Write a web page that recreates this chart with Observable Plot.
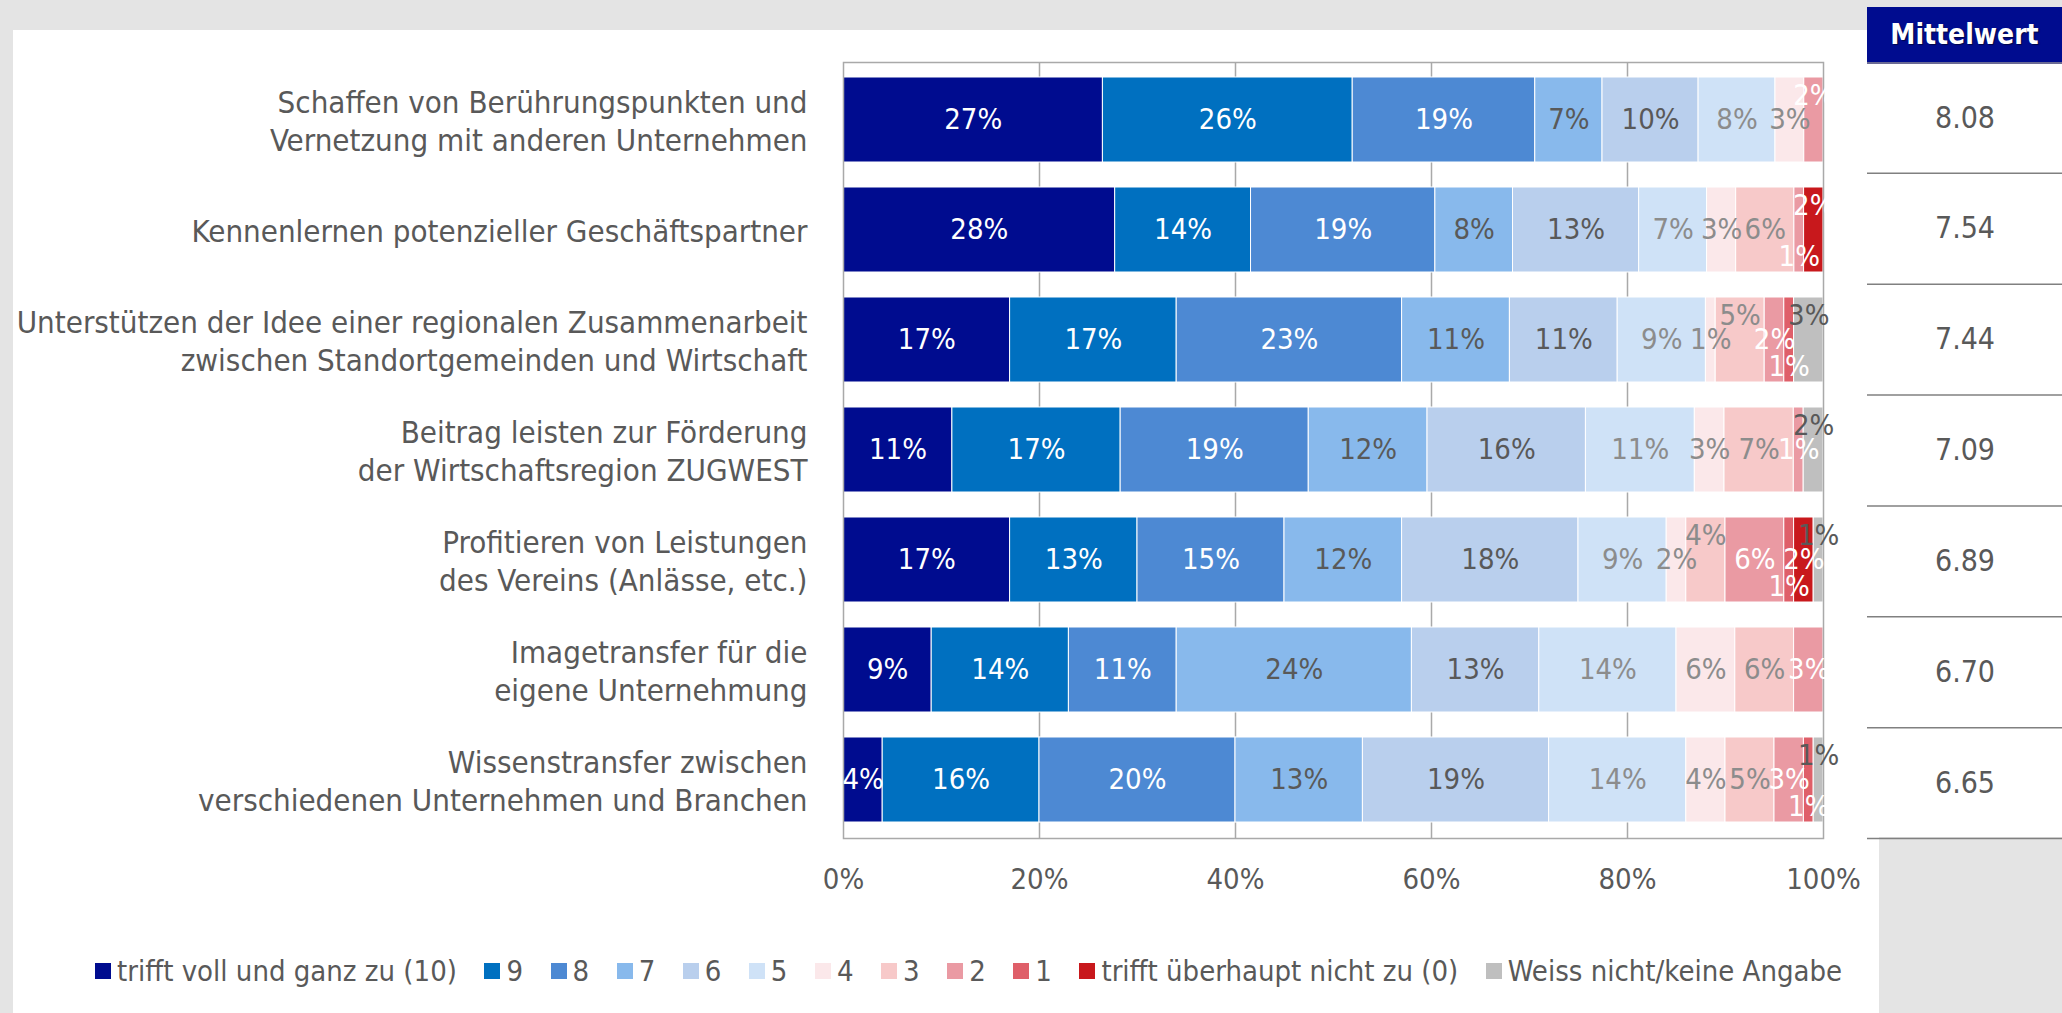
<!DOCTYPE html>
<html><head><meta charset="utf-8">
<script src="https://cdn.jsdelivr.net/npm/d3@7"></script>
<script src="https://cdn.jsdelivr.net/npm/@observablehq/plot@0.6"></script>
<style>
html,body{margin:0;padding:0;}
body{width:2062px;height:1013px;background:#e4e4e4;position:relative;overflow:hidden;font-family:"DejaVu Sans Condensed","DejaVu Sans",sans-serif;font-stretch:condensed;}
#panel{position:absolute;left:13px;top:30px;width:1866px;height:983px;background:#fff;}
#chart{position:absolute;left:0;top:0;}
#tablebg{position:absolute;left:1867px;top:62px;width:195px;height:775px;background:#fff;}
#table{position:absolute;left:1867px;top:0;}
#hdr{position:absolute;left:1867px;top:7px;width:195px;height:55px;background:#000c8f;color:#fff;font-weight:bold;font-size:28px;display:flex;align-items:center;justify-content:center;box-shadow:0 2px 0 #6a6a94;text-shadow:1px 1px 1px rgba(0,0,0,0.5);}
#legend{position:absolute;left:95px;top:954px;}
.lg-swatches{font-family:"DejaVu Sans Condensed","DejaVu Sans",sans-serif !important;font-stretch:condensed;font-size:29px !important;color:#595959 !important;margin:0 !important;display:flex !important;flex-wrap:nowrap !important;align-items:center;white-space:nowrap;}
.lg-swatch{margin-right:27.5px !important;}
.lg-swatch > svg{margin-right:6px !important;}
</style></head><body>
<div id="panel"></div>
<div id="chart"></div>
<div id="tablebg"></div>
<div id="table"></div>
<div id="hdr">Mittelwert</div>
<div id="legend"></div>
<script>
const items = [
  "Schaffen von Berührungspunkten und\nVernetzung mit anderen Unternehmen",
  "Kennenlernen potenzieller Geschäftspartner",
  "Unterstützen der Idee einer regionalen Zusammenarbeit\nzwischen Standortgemeinden und Wirtschaft",
  "Beitrag leisten zur Förderung\nder Wirtschaftsregion ZUGWEST",
  "Profitieren von Leistungen\ndes Vereins (Anlässe, etc.)",
  "Imagetransfer für die\neigene Unternehmung",
  "Wissenstransfer zwischen\nverschiedenen Unternehmen und Branchen"
];
const scaleLabels = ["trifft voll und ganz zu (10)","9","8","7","6","5","4","3","2","1","trifft überhaupt nicht zu (0)","Weiss nicht/keine Angabe"];
const s10 = [27, 28, 17, 11, 17, 9, 4];
const s9  = [26, 14, 17, 17, 13, 14, 16];
const s8  = [19, 19, 23, 19, 15, 11, 20];
const s7  = [7, 8, 11, 12, 12, 24, 13];
const s6  = [10, 13, 11, 16, 18, 13, 19];
const s5  = [8, 7, 9, 11, 9, 14, 14];
const s4  = [3, 3, 1, 3, 2, 6, 4];
const s3  = [0, 6, 5, 7, 4, 6, 5];
const s2  = [2, 1, 2, 1, 6, 3, 3];
const s1  = [0, 0, 1, 0, 1, 0, 1];
const s0  = [0, 2, 0, 0, 2, 0, 0];
const sNA = [0, 0, 3, 2, 1, 0, 1];
const means = [8.08, 7.54, 7.44, 7.09, 6.89, 6.70, 6.65];
const xTicks = [0, 0.2, 0.4, 0.6, 0.8, 1];
const xTickLabels = ["0%", "20%", "40%", "60%", "80%", "100%"];

// styling
const colors = ["#000c8f","#0070c0","#4d89d3","#88b9ec","#b9cfed","#cfe2f7","#fbe8ea","#f7c9c9","#ea9aa3","#df5f69","#c8181c","#bfbfbf"];
const labelFill = ["#ffffff","#ffffff","#ffffff","#595959","#595959","#8c8c8c","#8c8c8c","#8c8c8c","#ffffff","#ffffff","#ffffff","#595959"];
const nudge = {"0|8":"up","1|10":"up","1|8":"down","2|7":"up","2|9":"down","2|11":"up","3|11":"up","4|7":"up","4|9":"down","4|11":"up","6|9":"down","6|11":"up"};
const nudgeDy = {up: -24, mid: 0, down: 27};
const FONT = "DejaVu Sans Condensed, DejaVu Sans, sans-serif";

const series = [s10, s9, s8, s7, s6, s5, s4, s3, s2, s1, s0, sNA];
const rows = [];
items.forEach((item, r) => {
  const total = d3.sum(series, s => s[r]);
  let cum = 0;
  series.forEach((s, c) => {
    const v = s[r];
    rows.push({item, r, c, cat: scaleLabels[c], v, x1: cum / total, x2: (cum + v) / total});
    cum += v;
  });
});

const textMarks = [];
for (const fill of new Set(labelFill)) {
  for (const pos of ["up", "mid", "down"]) {
    textMarks.push(Plot.text(rows.filter(d => d.v > 0 && labelFill[d.c] === fill && (nudge[d.r + "|" + d.c] || "mid") === pos), {
      x: d => (d.x1 + d.x2) / 2, y: "item", text: d => d.v + "%",
      fill, dy: nudgeDy[pos], fontSize: 29, fontFamily: FONT
    }));
  }
}

const chart = Plot.plot({
  width: 1860, height: 900,
  marginLeft: 843, marginRight: 37, marginTop: 62, marginBottom: 62,
  style: {background: "transparent", overflow: "visible"},
  x: {domain: [0, 1], axis: null},
  y: {domain: items, paddingInner: 0.224, paddingOuter: 0.112, axis: null},
  color: {domain: scaleLabels, range: colors},
  marks: [
    Plot.ruleX(xTicks.slice(1, -1), {stroke: "#a9a9a9", strokeWidth: 1.5}),
    Plot.barX(rows.filter(d => d.v > 0), {x1: "x1", x2: "x2", y: "item", fill: "cat", stroke: "white", strokeWidth: 1}),
    Plot.frame({stroke: "#a9a9a9", strokeWidth: 1.5}),
    ...textMarks,
    Plot.axisY({tickSize: 0, tickPadding: 36, fontSize: 31, lineHeight: 1.2, color: "#595959", fontFamily: FONT, label: null}),
    Plot.axisX(xTicks, {tickSize: 0, tickPadding: 30, fontSize: 29, color: "#595959", fontFamily: FONT, label: null,
      tickFormat: d => xTickLabels[xTicks.indexOf(d)]})
  ]
});
document.getElementById("chart").append(chart);

const table = Plot.plot({
  width: 195, height: 900,
  marginLeft: 0, marginRight: 0, marginTop: 62, marginBottom: 62,
  style: {background: "transparent", overflow: "visible"},
  x: {domain: [0, 1], axis: null},
  y: {domain: [0, means.length], reverse: true, axis: null},
  marks: [
    Plot.ruleY(d3.range(1, means.length + 1), {stroke: "#808080", strokeWidth: 1.5}),
    Plot.text(means, {y: (d, i) => i + 0.5, frameAnchor: "middle", text: d => d.toFixed(2), fontSize: 30, fill: "#595959", fontFamily: FONT})
  ]
});
document.getElementById("table").append(table);

const legend = Plot.legend({
  color: {type: "ordinal", domain: scaleLabels, range: colors},
  swatchSize: 16, className: "lg"
});
document.getElementById("legend").append(legend);
</script>
</body></html>
